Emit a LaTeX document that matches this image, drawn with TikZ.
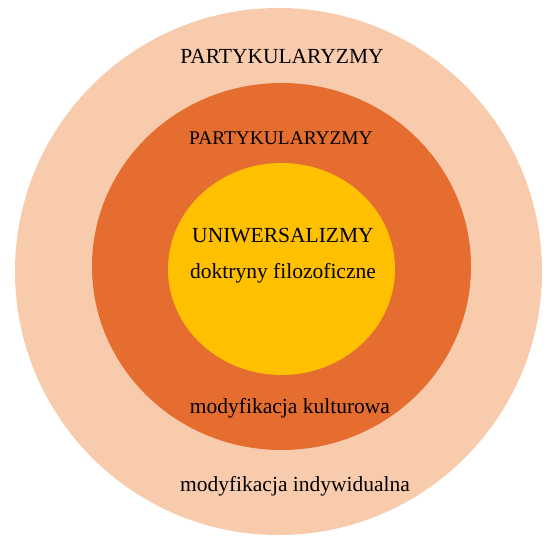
\documentclass[tikz,border=0pt]{standalone}
\usepackage{fontspec}
\newfontfamily\timesfont{LiberationSerif-Regular.ttf}
\usetikzlibrary{shapes.geometric}
\definecolor{peach}{HTML}{F8CBAD}
\definecolor{rust}{HTML}{E46D2F}
\definecolor{gold}{HTML}{FFC000}
\tikzstyle{ring} = [ellipse, inner sep=0pt, outer sep=0pt, draw=none]
\tikzstyle{bigtext} = [anchor=base, inner sep=0pt, text=black, font=\timesfont\fontsize{21.5bp}{26bp}\selectfont]
\tikzstyle{smalltext} = [anchor=base, inner sep=0pt, text=black, font=\timesfont\fontsize{19.4bp}{23bp}\selectfont]
\begin{document}
\begin{tikzpicture}[x=1bp, y=-1bp]
		\useasboundingbox (0,0) rectangle (559,547);
		\node (outer) [ring, fill=peach, minimum width=527bp, minimum height=527bp] at (278.5,271.5) {};
		\node (middle) [ring, fill=rust, minimum width=379bp, minimum height=367bp] at (281.5,266.5) {};
		\node (inner) [ring, fill=gold, minimum width=227bp, minimum height=212bp] at (281.5,269) {};
		\node (outertop) [bigtext] at (282,64) {PARTYKULARYZMY};
		\node (middletop) [smalltext] at (281,145) {PARTYKULARYZMY};
		\node (uni) [bigtext] at (283,242) {UNIWERSALIZMY};
		\node (doct) [bigtext] at (283,278) {doktryny filozoficzne};
		\node (cult) [bigtext] at (290,413) {modyfikacja kulturowa};
		\node (indiv) [bigtext] at (295,491) {modyfikacja indywidualna};
	\end{tikzpicture}
\end{document}
